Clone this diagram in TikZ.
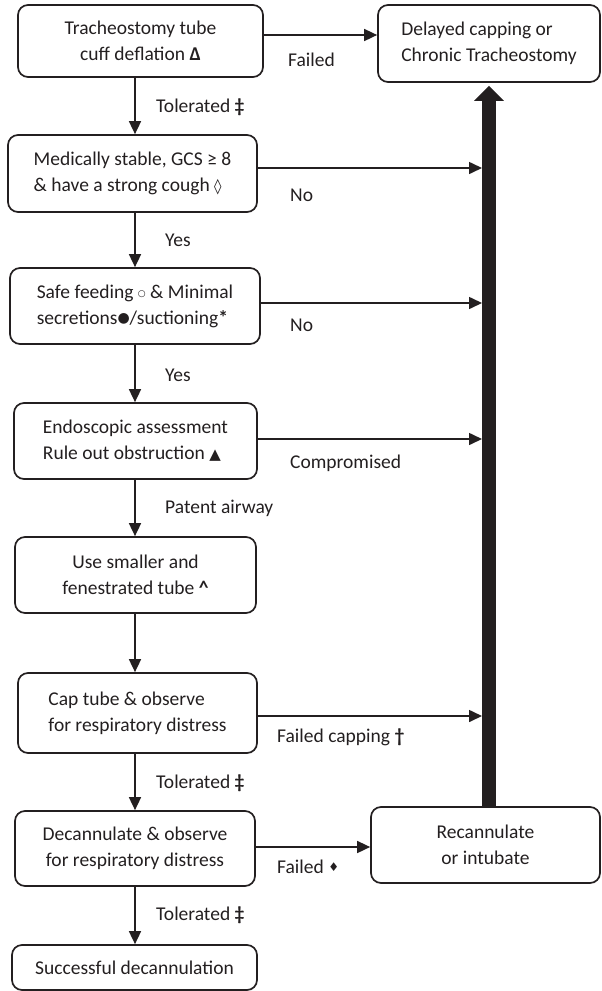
\documentclass[tikz,border=0pt]{standalone}
\usepackage{fontspec}
\setmainfont{Carlito}
\newfontfamily\symf{DejaVu Sans}
\usetikzlibrary{arrows.meta}
\definecolor{ink}{HTML}{231F20}
\newcommand{\sym}[2]{{\symf\fontsize{#1}{#1}\selectfont #2}}
\newcommand{\rsym}[3]{\raisebox{#1}{\symf\fontsize{#2}{#2}\selectfont #3}}
\begin{document}
\begin{tikzpicture}[x=1pt,y=-1pt,
  every node/.style={font=\fontsize{19.5}{26}\selectfont, text=ink},
  box/.style={draw=ink, line width=1.7pt, rounded corners=10pt, inner sep=0pt},
  flow/.style={draw=ink, line width=1.6pt, -{Triangle[length=13pt,width=12pt]}},
  bigflow/.style={draw=ink, line width=14pt, -{Triangle[length=15pt,width=29pt]}, shorten >=3pt},
  lbl/.style={inner sep=0pt, anchor=west}]
\useasboundingbox (0,0) rectangle (602,991);

% boxes
\node[box, minimum width=245pt, minimum height=72pt, align=center] (b1) at (140.5,41)
  {Tracheostomy tube\\cuff deflation \textbf{Δ}};
\node[box, minimum width=222pt, minimum height=77pt, align=left] (tr) at (489,43.5)
  {Delayed capping or\\Chronic Tracheostomy};
\node[box, minimum width=249pt, minimum height=77pt, align=left] (b2) at (132.5,173.5)
  {Medically stable, GCS ≥ 8\\\& have a strong cough \sym{15}{◊}};
\node[box, minimum width=250pt, minimum height=76pt, align=left] (b3) at (135,306)
  {Safe feeding \rsym{1.5pt}{9}{○} \& Minimal\\secretions\rsym{1.5pt}{14}{●}/suctioning\textbf{*}};
\node[box, minimum width=243pt, minimum height=76pt, align=left] (b4) at (135.5,441)
  {Endoscopic assessment\\Rule out obstruction \sym{15}{▲}};
\node[box, minimum width=241pt, minimum height=76pt, align=center] (b5) at (135.5,575)
  {Use smaller and\\fenestrated tube \textbf{\^{}}};
\node[box, minimum width=239pt, minimum height=80pt, align=left] (b6) at (137.5,713)
  {Cap tube \& observe\\for respiratory distress};
\node[box, minimum width=240pt, minimum height=75pt, align=center] (b7) at (135,848.5)
  {Decannulate \& observe\\for respiratory distress};
\node[box, minimum width=229pt, minimum height=76pt, align=center] (rec) at (485.5,845)
  {Recannulate\\or intubate};
\node[box, minimum width=245pt, minimum height=45pt, align=center] (b8) at (134.5,967.5)
  {Successful decannulation};

% reference coordinates
\coordinate (spine) at (135,0);
\coordinate (barx) at (489,0);
\coordinate (h0) at (0,35);
\coordinate (h2) at (482,168);
\coordinate (h3) at (482,303);
\coordinate (h4) at (482,439);
\coordinate (h6) at (482,716);
\coordinate (h7) at (0,847);

% vertical flow
\draw[flow] (b1.south -| spine) -- (b2.north -| spine);
\draw[flow] (b2.south -| spine) -- (b3.north -| spine);
\draw[flow] (b3.south -| spine) -- (b4.north -| spine);
\draw[flow] (b4.south -| spine) -- (b5.north -| spine);
\draw[flow] (b5.south -| spine) -- (b6.north -| spine);
\draw[flow] (b6.south -| spine) -- (b7.north -| spine);
\draw[flow] (b7.south -| spine) -- (b8.north -| spine);

% horizontal flow
\draw[flow] (b1.east |- h0) -- (tr.west |- h0);
\draw[flow] (b2.east |- h2) -- (h2);
\draw[flow] (b3.east |- h3) -- (h3);
\draw[flow] (b4.east |- h4) -- (h4);
\draw[flow] (b6.east |- h6) -- (h6);
\draw[flow] (b7.east |- h7) -- (rec.west |- h7);

% thick return arrow
\draw[bigflow] (rec.north -| barx) -- (tr.south -| barx);

% labels
\node[lbl] (l1) at (288,60) {Failed};
\node[lbl] (l2) at (156,107) {Tolerated \textbf{‡}};
\node[lbl] (l3) at (290,195) {No};
\node[lbl] (l4) at (165,240) {Yes};
\node[lbl] (l5) at (290,325) {No};
\node[lbl] (l6) at (165,375) {Yes};
\node[lbl] (l7) at (290,463) {Compromised};
\node[lbl] (l8) at (165,508) {Patent airway};
\node[lbl] (l9) at (277,737) {Failed capping \textbf{†}};
\node[lbl] (l10) at (156,783) {Tolerated \textbf{‡}};
\node[lbl] (l11) at (277,867) {Failed \rsym{2pt}{12}{♦}};
\node[lbl] (l12) at (156,915) {Tolerated \textbf{‡}};
\end{tikzpicture}
\end{document}
